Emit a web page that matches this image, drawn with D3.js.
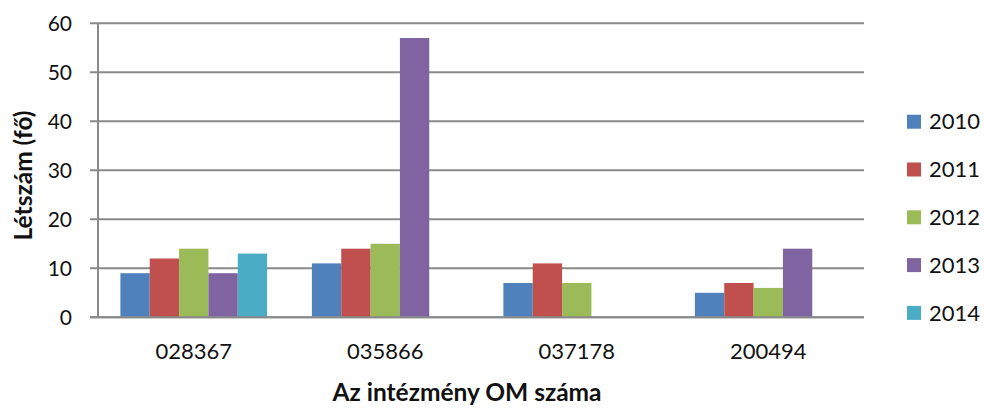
<!DOCTYPE html>
<html><head><meta charset="utf-8">
<script src="https://cdn.jsdelivr.net/npm/d3@7"></script>
<style>body{margin:0;background:#fff}text{font-family:Lato,"Open Sans",sans-serif}</style>
</head><body><svg id="c" width="984" height="410"></svg>
<script>
const categories = ["028367","035866","037178","200494"];
const seriesNames = ["2010","2011","2012","2013","2014"];
const colors = ["#4F81BD","#C0504D","#9BBB59","#8064A2","#4BACC6"];
const values2010 = [9,11,7,5];
const values2011 = [12,14,11,7];
const values2012 = [14,15,7,6];
const values2013 = [9,57,null,14];
const values2014 = [13,null,null,null];
const yTicks = [0,10,20,30,40,50,60];
const seriesValues = [values2010,values2011,values2012,values2013,values2014];

const svg = d3.select("#c");
const L=98, R=864, T=23.3, B=317.3;
const x = d3.scaleBand().domain(categories).range([L,R]).paddingInner(0).paddingOuter(0);
const xs = d3.scaleBand().domain(seriesNames).range([22.4, x.bandwidth()-22.4]);
const y = d3.scaleLinear().domain([0,60]).range([B,T]);

// gridlines
svg.append("g").selectAll("line").data(yTicks).join("line")
  .attr("x1",L-8).attr("x2",R).attr("y1",d=>y(d)).attr("y2",d=>y(d))
  .attr("stroke","#8a8a8a").attr("stroke-width",2);
svg.append("line").attr("x1",L).attr("x2",L).attr("y1",T).attr("y2",B)
  .attr("stroke","#8a8a8a").attr("stroke-width",2);

// bars
const data=[];
categories.forEach((c,i)=>seriesNames.forEach((s,j)=>{const v=seriesValues[j][i]; if(v!=null) data.push({c,s,v,j});}));
svg.append("g").selectAll("rect").data(data).join("rect")
  .attr("x",d=>x(d.c)+xs(d.s)).attr("width",xs.bandwidth())
  .attr("y",d=>y(d.v)).attr("height",d=>y(0)-y(d.v))
  .attr("fill",d=>colors[d.j]);
svg.append("line").attr("x1",L-8).attr("x2",R).attr("y1",B).attr("y2",B).attr("stroke","#8a8a8a").attr("stroke-width",2);

// y labels
svg.append("g").selectAll("text").data(yTicks).join("text")
  .attr("x",72).attr("y",d=>y(d)+7.7).attr("text-anchor","end")
  .attr("font-size",21).attr("fill","#111").text(d=>d);
// x labels
svg.append("g").selectAll("text").data(categories).join("text")
  .attr("x",d=>x(d)+x.bandwidth()/2).attr("y",359).attr("text-anchor","middle")
  .attr("font-size",22).attr("fill","#111").text(d=>d);
// titles
svg.append("text").attr("transform","translate(32,175.5) rotate(-90)").attr("text-anchor","middle")
  .attr("font-size",24.5).attr("font-weight","bold").attr("fill","#111").text("Létszám (fő)");
svg.append("text").attr("x",467).attr("y",401).attr("text-anchor","middle")
  .attr("font-size",24.5).attr("font-weight","bold").attr("fill","#111").text("Az intézmény OM száma");

// legend
const lg = svg.append("g").selectAll("g").data(seriesNames).join("g")
  .attr("transform",(d,i)=>`translate(907,${121.7+i*47.8})`);
lg.append("rect").attr("x",0).attr("y",-7).attr("width",14).attr("height",14).attr("fill",(d,i)=>colors[i]);
lg.append("text").attr("x",22).attr("y",7.6).attr("font-size",22).attr("fill","#111").text(d=>d);
</script></body></html>
